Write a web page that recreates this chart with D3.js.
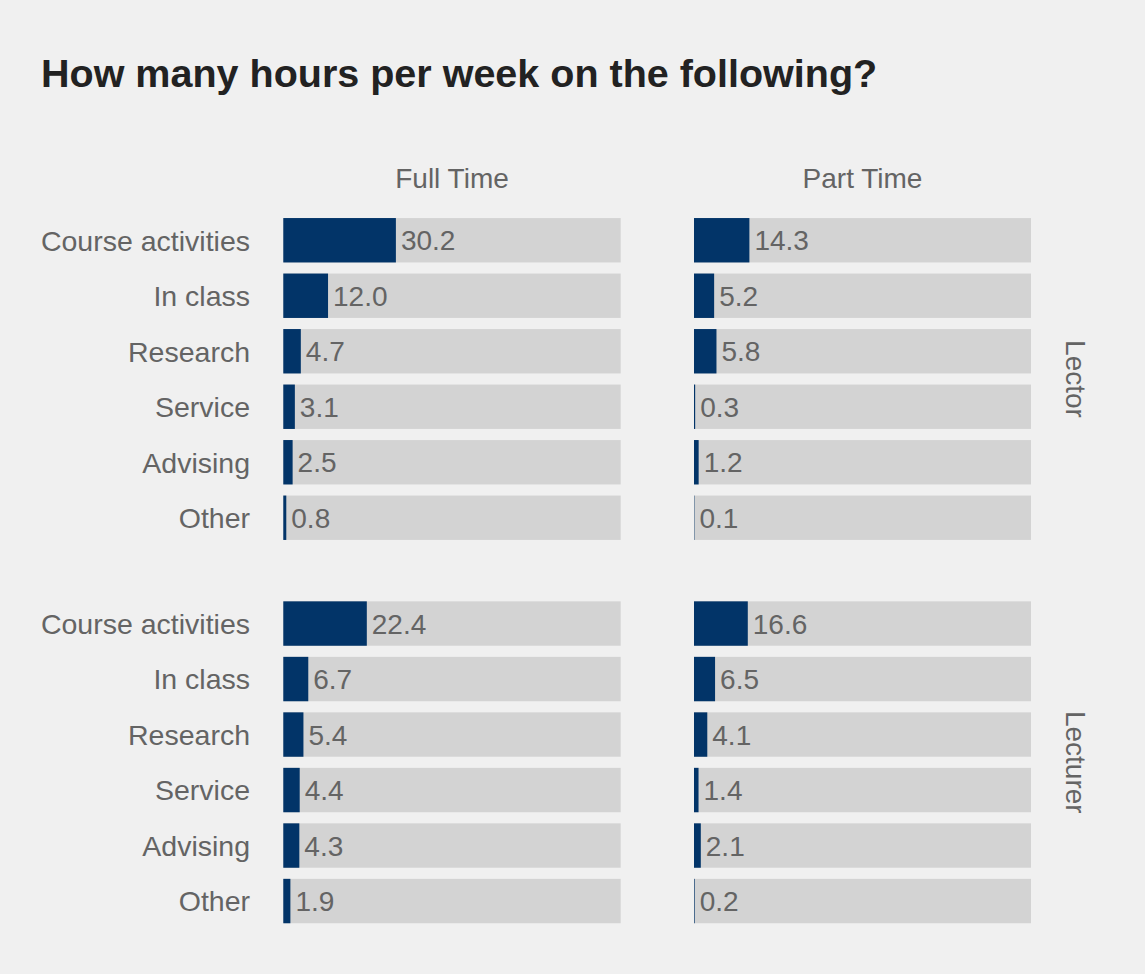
<!DOCTYPE html>
<html>
<head>
<meta charset="utf-8">
<script src="https://cdn.jsdelivr.net/npm/d3@7"></script>
<style>
  html, body { margin: 0; padding: 0; background: #f0f0f0; }
  svg { display: block; }
  text { font-family: "Liberation Sans", Arial, sans-serif; }
</style>
</head>
<body>
<svg id="chart" width="1145" height="974"></svg>
<script>
// ---- data ----
const categories = ["Course activities", "In class", "Research", "Service", "Advising", "Other"];
const roles = ["Lector", "Lecturer"];
const statuses = ["Full Time", "Part Time"];
const lectorFullTime = [30.2, 12.0, 4.7, 3.1, 2.5, 0.8];
const lectorPartTime = [14.3, 5.2, 5.8, 0.3, 1.2, 0.1];
const lecturerFullTime = [22.4, 6.7, 5.4, 4.4, 4.3, 1.9];
const lecturerPartTime = [16.6, 6.5, 4.1, 1.4, 2.1, 0.2];
// scale maximum per panel (row-major: Lector FT, Lector PT, Lecturer FT, Lecturer PT)
const panelMax = [90.5, 87, 90.5, 104];

const panels = [
  { role: "Lector", status: "Full Time", values: lectorFullTime, max: panelMax[0] },
  { role: "Lector", status: "Part Time", values: lectorPartTime, max: panelMax[1] },
  { role: "Lecturer", status: "Full Time", values: lecturerFullTime, max: panelMax[2] },
  { role: "Lecturer", status: "Part Time", values: lecturerPartTime, max: panelMax[3] }
];

// ---- layout ----
const W = 1145, H = 974;
const svg = d3.select("#chart");
svg.append("rect").attr("width", W).attr("height", H).attr("fill", "#f0f0f0");

const colX = d3.scaleOrdinal().domain(statuses).range([[283.3, 620.7], [694, 1031]]);
const rowY = d3.scaleOrdinal().domain(roles).range([[212.5, 545.5], [595.8, 928.8]]);

const labelColor = "#646464";
const barColor = "#023468";
const bgBar = "#d3d3d3";

// title
svg.append("text")
  .attr("x", 41).attr("y", 87)
  .attr("font-size", 39.5).attr("font-weight", "bold").attr("fill", "#222")
  .text("How many hours per week on the following?");

// column headers
statuses.forEach(s => {
  const r = colX(s);
  svg.append("text")
    .attr("x", (r[0] + r[1]) / 2).attr("y", 188)
    .attr("text-anchor", "middle").attr("font-size", 28).attr("fill", labelColor)
    .text(s);
});

// row strip labels
roles.forEach(role => {
  const r = rowY(role);
  const cy = (r[0] + r[1]) / 2;
  svg.append("text")
    .attr("transform", `translate(1066,${cy}) rotate(90)`)
    .attr("text-anchor", "middle").attr("font-size", 28).attr("fill", labelColor)
    .text(role);
});

// panels
panels.forEach(p => {
  const xr = colX(p.status);
  const yr = rowY(p.role);
  const x = d3.scaleLinear().domain([0, p.max]).range(xr);
  const y = d3.scaleBand().domain(categories).range(yr).paddingInner(0.2).paddingOuter(0.1);
  const g = svg.append("g");
  const data = categories.map((c, i) => ({ c, v: p.values[i] }));

  g.selectAll("rect.bg").data(data).join("rect")
    .attr("class", "bg")
    .attr("x", x(0)).attr("y", d => y(d.c))
    .attr("width", x(p.max) - x(0)).attr("height", y.bandwidth())
    .attr("fill", bgBar);

  g.selectAll("rect.bar").data(data).join("rect")
    .attr("class", "bar")
    .attr("x", x(0)).attr("y", d => y(d.c))
    .attr("width", d => x(d.v) - x(0)).attr("height", y.bandwidth())
    .attr("fill", barColor);

  g.selectAll("text.val").data(data).join("text")
    .attr("class", "val")
    .attr("x", d => x(d.v) + 5).attr("y", d => y(d.c) + y.bandwidth() / 2)
    .attr("dy", "0.36em").attr("font-size", 28).attr("fill", labelColor)
    .text(d => d3.format(".1f")(d.v));

  if (p.status === "Full Time") {
    g.selectAll("text.cat").data(data).join("text")
      .attr("class", "cat")
      .attr("x", 250).attr("y", d => y(d.c) + y.bandwidth() / 2)
      .attr("dy", "0.36em").attr("text-anchor", "end").attr("font-size", 28.5).attr("fill", labelColor)
      .text(d => d.c);
  }
});
</script>
</body>
</html>
